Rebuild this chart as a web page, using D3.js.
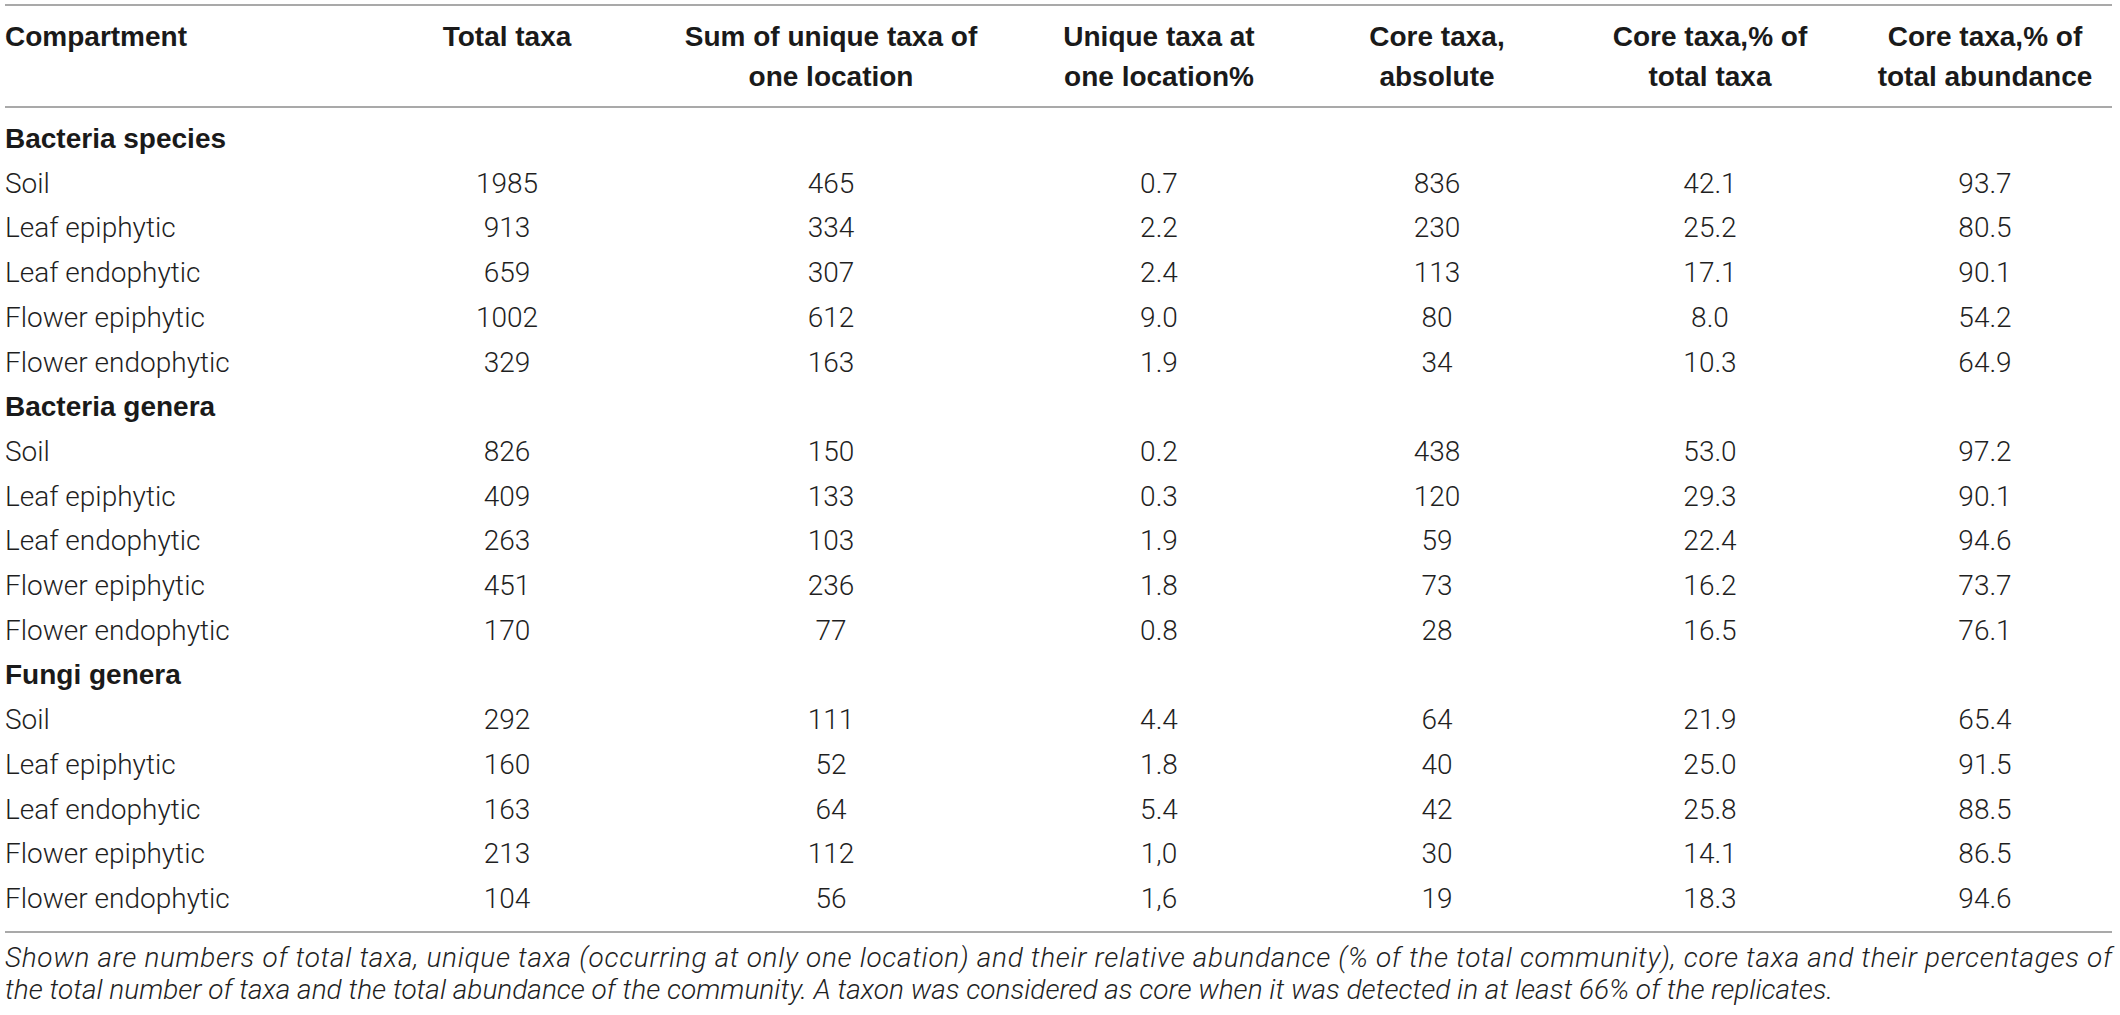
<!DOCTYPE html>
<html>
<head>
<meta charset="utf-8">
<script src="https://cdn.jsdelivr.net/npm/d3@7"></script>
<style>
  html, body { margin: 0; padding: 0; background: #fff; }
  svg { display: block; }
  .hdr { font-family: "Liberation Sans", Arial, sans-serif; font-weight: 700; fill: #1a1a1a; }
  .body { font-family: "Roboto", "Liberation Sans", sans-serif; font-weight: 300; fill: #1f1f1f; }
  .cap { font-family: "Roboto", "Liberation Sans", sans-serif; font-weight: 300; font-style: italic; fill: #1f1f1f; }
</style>
</head>
<body>
<svg id="chart" width="2120" height="1015"></svg>
<script>
// ---- data ----
const headerLines = [
  ["Compartment"],
  ["Total taxa"],
  ["Sum of unique taxa of", "one location"],
  ["Unique taxa at", "one location%"],
  ["Core taxa,", "absolute"],
  ["Core taxa,% of", "total taxa"],
  ["Core taxa,% of", "total abundance"]
];
const groups = ["Bacteria species", "Bacteria genera", "Fungi genera"];
const compartments = ["Soil", "Leaf epiphytic", "Leaf endophytic", "Flower epiphytic", "Flower endophytic"];
const totalTaxa = [1985, 913, 659, 1002, 329, 826, 409, 263, 451, 170, 292, 160, 163, 213, 104];
const sumUnique = [465, 334, 307, 612, 163, 150, 133, 103, 236, 77, 111, 52, 64, 112, 56];
const uniquePct = ["0.7", "2.2", "2.4", "9.0", "1.9", "0.2", "0.3", "1.9", "1.8", "0.8", "4.4", "1.8", "5.4", "1,0", "1,6"];
const coreAbs = [836, 230, 113, 80, 34, 438, 120, 59, 73, 28, 64, 40, 42, 30, 19];
const corePctTaxa = ["42.1", "25.2", "17.1", "8.0", "10.3", "53.0", "29.3", "22.4", "16.2", "16.5", "21.9", "25.0", "25.8", "14.1", "18.3"];
const corePctAbund = ["93.7", "80.5", "90.1", "54.2", "64.9", "97.2", "90.1", "94.6", "73.7", "76.1", "65.4", "91.5", "88.5", "86.5", "94.6"];
const captionLines = [
  "Shown are numbers of total taxa, unique taxa (occurring at only one location) and their relative abundance (% of the total community), core taxa and their percentages of",
  "the total number of taxa and the total abundance of the community. A taxon was considered as core when it was detected in at least 66% of the replicates."
];

// ---- layout ----
const W = 2120, H = 1015;
const left = 5, right = 2112;
const colKeys = d3.range(headerLines.length);
// column centres (index 0 is left-aligned label column)
const colX = d3.scaleOrdinal().domain(colKeys).range([left, 507, 831, 1159, 1437, 1710, 1985]);
const series = [null, totalTaxa, sumUnique, uniquePct, coreAbs, corePctTaxa, corePctAbund];

// build rows
const rows = [];
groups.forEach((g, gi) => {
  rows.push({ type: "group", label: g });
  compartments.forEach((c, ci) => {
    const k = gi * compartments.length + ci;
    rows.push({ type: "data", label: c, values: series.slice(1).map(s => s[k]) });
  });
});
const rowY = d3.scalePoint().domain(d3.range(rows.length)).range([148, 908]);

const svg = d3.select("#chart");
const fs = 28;

// rules
const lineY = [5, 107, 932];
svg.selectAll("line.rule").data(lineY).join("line")
  .attr("class", "rule")
  .attr("x1", left).attr("x2", right)
  .attr("y1", d => d).attr("y2", d => d)
  .attr("stroke", "#8c8c8c").attr("stroke-width", 1.4);

// header
const headerBase = [46, 86];
colKeys.forEach(ci => {
  const t = svg.append("text").attr("class", "hdr")
    .attr("font-size", fs)
    .attr("text-anchor", ci === 0 ? "start" : "middle");
  headerLines[ci].forEach((ln, li) => {
    t.append("tspan").attr("x", colX(ci)).attr("y", headerBase[li]).text(ln);
  });
});

// body rows
rows.forEach((r, i) => {
  const y = rowY(i);
  if (r.type === "group") {
    svg.append("text").attr("class", "hdr").attr("font-size", fs)
      .attr("x", colX(0)).attr("y", y).text(r.label);
  } else {
    svg.append("text").attr("class", "body").attr("font-size", fs)
      .attr("x", colX(0)).attr("y", y).text(r.label);
    r.values.forEach((v, vi) => {
      svg.append("text").attr("class", "body").attr("font-size", fs)
        .attr("text-anchor", "middle")
        .attr("x", colX(vi + 1)).attr("y", y).text(v);
    });
  }
});

// caption
const capY = [967, 999];
captionLines.forEach((ln, i) => {
  const t = svg.append("text").attr("class", "cap").attr("font-size", fs)
    .attr("x", left).attr("y", capY[i]).text(ln);
  if (i === 0) t.attr("textLength", right - left).attr("lengthAdjust", "spacing");
});
</script>
</body>
</html>
